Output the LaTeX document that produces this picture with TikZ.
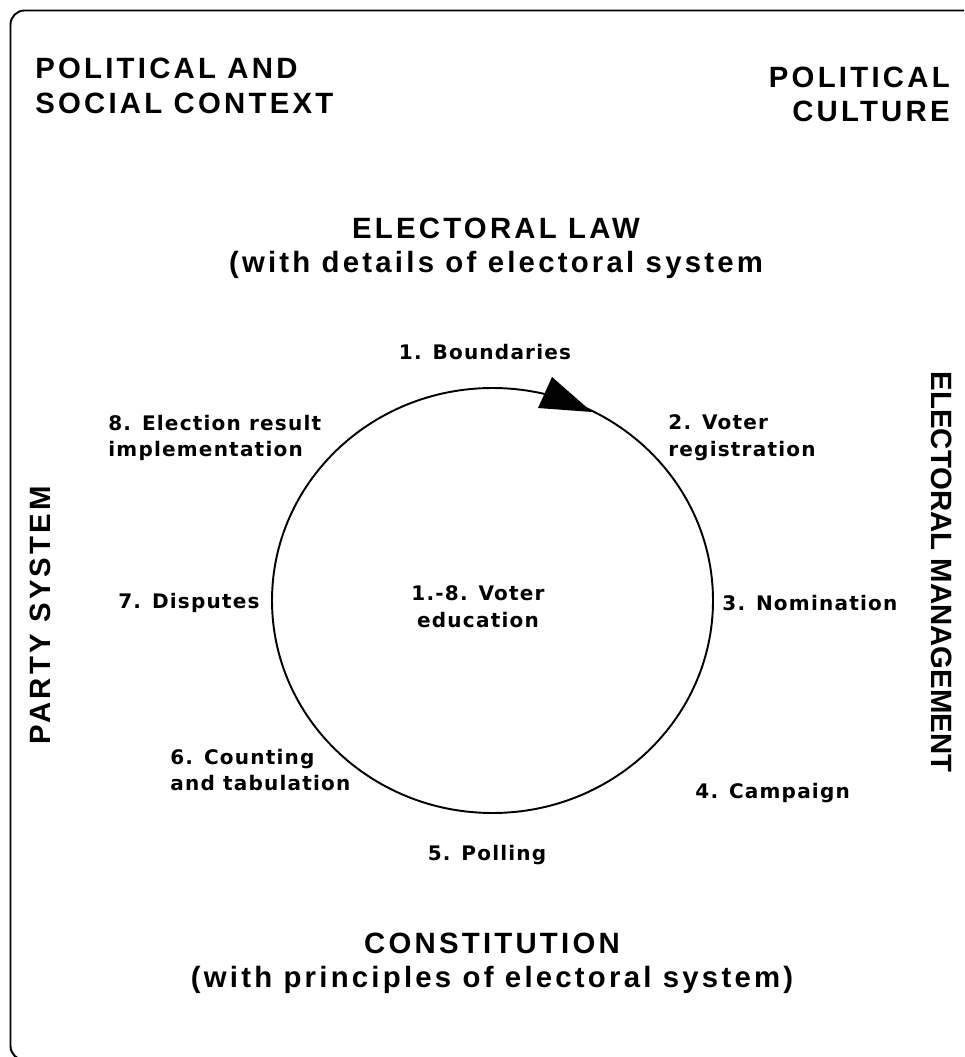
\documentclass[tikz,border=0pt]{standalone}
\usepackage{fontspec}
\usepackage{tikz}
\setmainfont{Liberation Sans}
\newfontfamily\headfont{Liberation Sans}[LetterSpace=11]
\newfontfamily\stagefont{DejaVu Sans}[LetterSpace=6]

\tikzset{
  heading/.style={font=\headfont\bfseries\fontsize{16.7}{19.5}\selectfont, inner sep=0pt},
  stage/.style={font=\stagefont\bfseries\fontsize{11.4}{15.3}\selectfont, inner sep=0pt},
}

\begin{document}
\begin{tikzpicture}
    \useasboundingbox (0,0) rectangle (19.28,-21.14);

    % Frame
    \begin{scope}
      \clip (0,0) rectangle (19.28,-21.14);
      \draw[line width=1.1pt, rounded corners=8pt] (0.21,-0.21) rectangle (20,-21.2);
    \end{scope}

    % Context
    \node[heading, anchor=west, align=left] (context) at (0.70,-1.72) {POLITICAL AND\\SOCIAL CONTEXT};
    \node[heading, anchor=east, align=right] (culture) at (19.0,-1.89) {POLITICAL\\CULTURE};
    \node[heading, align=center] (law) at (9.92,-4.96) {ELECTORAL LAW\\(with details of electoral system};
    \node[heading, rotate=90] (party) at (0.80,-12.30) {PARTY SYSTEM};
    \node[heading, font=\bfseries\fontsize{16.7}{19.5}\selectfont, rotate=-90] (manage) at (18.84,-11.44) {ELECTORAL MANAGEMENT};
    \node[heading, align=center] (constitution) at (9.84,-19.26) {CONSTITUTION\\(with principles of electoral system)};

    % Cycle
    \draw[line width=1.1pt] (9.85,-12.01) ellipse (4.41 and 4.25);
    \fill (11.04,-7.54) -- (10.76,-8.16) -- (11.84,-8.24) -- cycle;

    % Stages
    \node[stage] (boundaries) at (9.70,-7.04) {1. Boundaries};
    \node[stage, anchor=west, align=left] (registration) at (13.36,-8.76) {2. Voter\\registration};
    \node[stage, anchor=west] (nomination) at (14.44,-12.06) {3. Nomination};
    \node[stage, anchor=west] (campaign) at (13.90,-15.86) {4. Campaign};
    \node[stage] (polling) at (9.74,-17.10) {5. Polling};
    \node[stage, anchor=west, align=left] (counting) at (3.40,-15.40) {6. Counting\\and tabulation};
    \node[stage, anchor=west] (disputes) at (2.36,-12.06) {7. Disputes};
    \node[stage, anchor=west, align=left] (result) at (2.16,-8.76) {8. Election result\\implementation};
    \node[stage, align=center] (education) at (9.56,-12.14) {1.-8. Voter\\education};
\end{tikzpicture}
\end{document}
